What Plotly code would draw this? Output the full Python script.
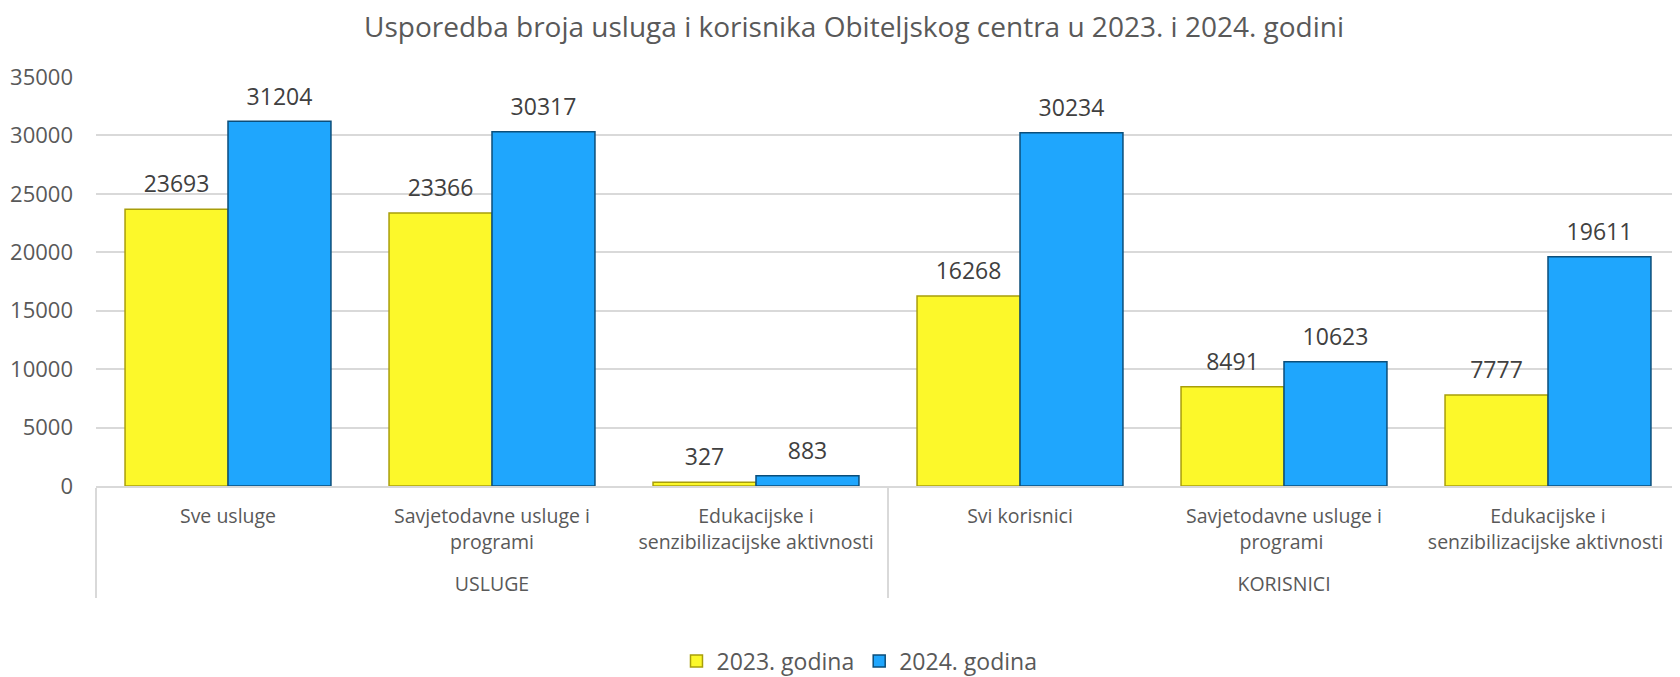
import plotly.graph_objects as go

groups = ['<br>USLUGE'] * 3 + ['<br>KORISNICI'] * 3
# trailing spaces keep the repeated KORISNICI labels distinct so the order is kept
categories = ['Sve usluge', 'Savjetodavne usluge i<br>programi', 'Edukacijske i<br>senzibilizacijske aktivnosti',
              'Svi korisnici', 'Savjetodavne usluge i<br>programi ', 'Edukacijske i<br>senzibilizacijske aktivnosti ']
values_2023 = [23693, 23366, 327, 16268, 8491, 7777]
values_2024 = [31204, 30317, 883, 30234, 10623, 19611]
series = [('2023. godina', values_2023, '#FCF82A', '#A89E0A'),
          ('2024. godina', values_2024, '#1FA6FD', '#0B4E7A')]

font = 'Open Sans'
x = [groups, categories]

fig = go.Figure()
for name, vals, color, edge in series:
    fig.add_trace(go.Bar(
        x=x, y=vals, name=name,
        marker=dict(color=color, line=dict(color=edge, width=1.5)),
    ))
# value labels as grouped text points so they sit a bit higher above the bars
for name, vals, color, edge in series:
    fig.add_trace(go.Scatter(
        x=x, y=vals, mode='markers+text', text=[str(v) for v in vals],
        textposition='top center', cliponaxis=False, showlegend=False, hoverinfo='skip',
        marker=dict(size=16, opacity=0),
        textfont=dict(family=font, size=23, color='#404040'),
    ))

# page body has an 8px margin, so the figure is 8px smaller than the window
fig.update_layout(
    width=1672, height=669,
    paper_bgcolor='white', plot_bgcolor='white',
    barmode='group', bargap=0.22, bargroupgap=0,
    scattermode='group', scattergap=0.22,
    margin=dict(l=88, r=0, t=69, b=191),
    title=dict(text='Usporedba broja usluga i korisnika Obiteljskog centra u 2023. i 2024. godini',
               x=0.506, xanchor='center', yref='container', y=1 - 19 / 669, yanchor='middle',
               font=dict(family=font, size=28, color='#595959')),
    font=dict(family=font, color='#595959'),
    legend=dict(orientation='h', x=0.482, xanchor='center', yref='container', y=16 / 669, yanchor='middle',
                font=dict(family=font, size=23, color='#595959'), itemwidth=30),
)
fig.update_xaxes(
    type='multicategory', showline=True, linecolor='#D9D9D9', linewidth=1.5,
    showdividers=True, dividercolor='#D9D9D9', dividerwidth=1.5, ticklabelstandoff=12,
    tickfont=dict(family=font, size=19.5, color='#595959'),
)
fig.update_yaxes(
    range=[0, 35000], dtick=5000, tickformat='d', showgrid=True, gridcolor='#D9D9D9', gridwidth=1.5,
    zeroline=False, ticklabelstandoff=22,
    tickfont=dict(family=font, size=22, color='#595959'),
)

fig.write_html("out.html")
